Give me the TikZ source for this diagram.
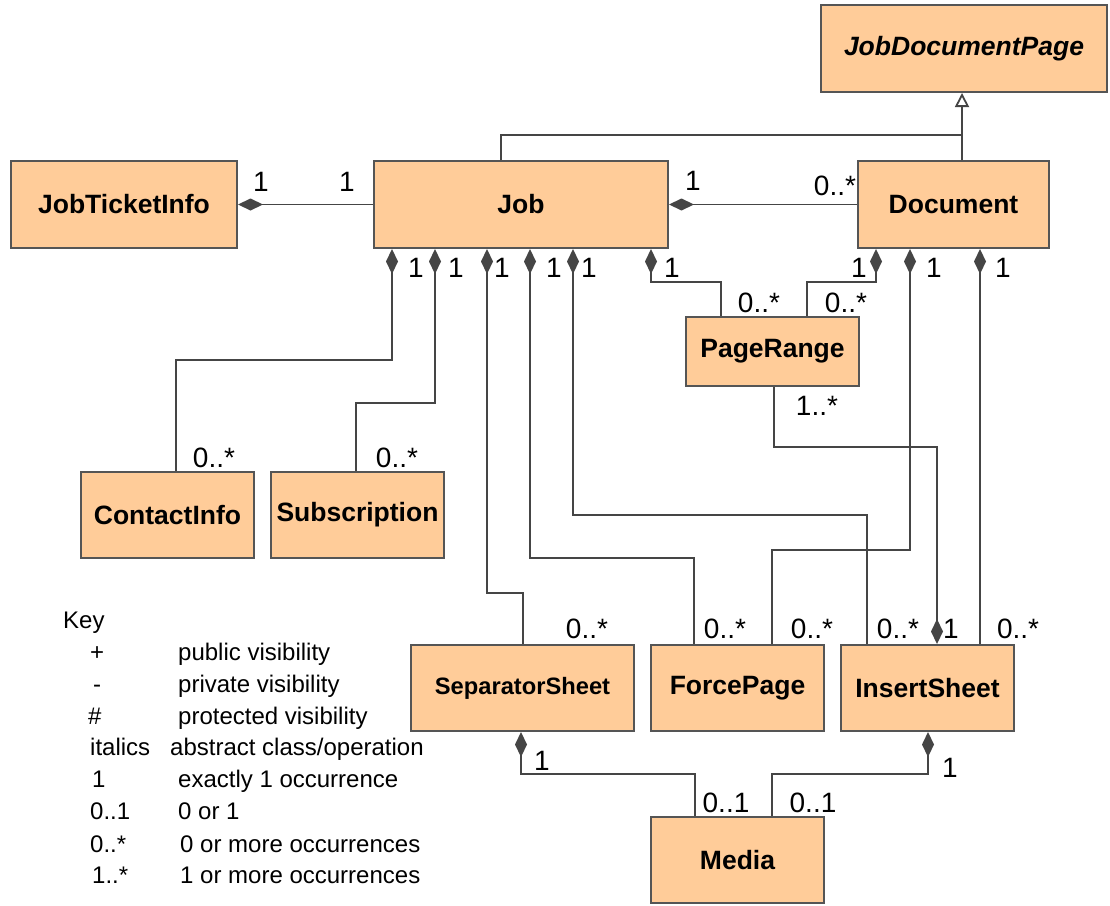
\documentclass[tikz,border=0pt]{standalone}
\usepackage{fontspec}
\setmainfont{Liberation Sans}
\usetikzlibrary{arrows.meta}
\definecolor{boxfill}{HTML}{FFCC99}
\definecolor{boxline}{HTML}{555555}
\definecolor{lc}{HTML}{454545}
\begin{document}
\begin{tikzpicture}[x=1pt,y=-1pt,
 cls/.style={draw=boxline, fill=boxfill, line width=2pt, inner sep=0pt, font=\fontsize{26.5}{30}\selectfont\bfseries},
 lnk/.style={draw=lc, line width=1.8pt},
 compo/.style={lnk, {Diamond[length=25pt,width=12pt]}-},
 compoend/.style={lnk, -{Diamond[length=25pt,width=12pt]}},
 inh/.style={lnk, -{Triangle[open,length=14pt,width=14pt,fill=white]}},
 lab/.style={font=\fontsize{28}{30}\selectfont, anchor=base, inner sep=0pt, text=black},
 keyt/.style={font=\fontsize{24}{28}\selectfont, anchor=base west, inner sep=0pt}]
\useasboundingbox (0,0) rectangle (1110,905);
% classes
\node[cls, minimum width=286pt, minimum height=87pt] (jdp) at (964,48.5) {\itshape JobDocumentPage};
\node[cls, minimum width=294pt, minimum height=87pt] (job) at (521,204.5) {Job};
\node[cls, minimum width=191pt, minimum height=87pt] (doc) at (953.5,204.5) {Document};
\node[cls, minimum width=226pt, minimum height=87pt] (jti) at (124,204.5) {JobTicketInfo};
\node[cls, minimum width=173pt, minimum height=69pt] (pr) at (772.5,351.5) {PageRange};
\node[cls, minimum width=173pt, minimum height=86pt] (ci) at (167.5,515) {ContactInfo};
\node[cls, minimum width=173pt, minimum height=86pt] (sub) at (357.5,515) {Subscription};
\node[cls, minimum width=223pt, minimum height=86pt, font=\fontsize{23.7}{28}\selectfont\bfseries] (sep) at (522.5,688) {SeparatorSheet};
\node[cls, minimum width=173pt, minimum height=86pt] (fp) at (737.5,688) {ForcePage};
\node[cls, minimum width=173pt, minimum height=86pt] (ins) at (927.5,688) {InsertSheet};
\node[cls, minimum width=173pt, minimum height=86pt] (med) at (737.5,860) {Media};
% connectors
\draw[compo] (jti.east) -- (job.west);
\draw[compo] (job.east) -- (doc.west);
\draw[lnk] (501,0 |- job.north) |- (962,135);
\draw[inh] (962,0 |- doc.north) -- (962,0 |- jdp.south);
\draw[compo] (392,0 |- job.south) |- (176,360) -- (176,0 |- ci.north);
\draw[compo] (435,0 |- job.south) |- (356,403) -- (356,0 |- sub.north);
\draw[compo] (487,0 |- job.south) |- (523,593) -- (523,0 |- sep.north);
\draw[compo] (530,0 |- job.south) |- (694,558) -- (694,0 |- fp.north);
\draw[compo] (573,0 |- job.south) |- (867,515) -- (867,0 |- ins.north);
\draw[compo] (651,0 |- job.south) |- (721,282) -- (721,0 |- pr.north);
\draw[compo] (876,0 |- doc.south) |- (807,282) -- (807,0 |- pr.north);
\draw[compo] (910,0 |- doc.south) |- (772,550) -- (772,0 |- fp.north);
\draw[compo] (980,0 |- doc.south) -- (980,0 |- ins.north);
\draw[compoend] (774,0 |- pr.south) |- (937,447) -- (937,0 |- ins.north);
\draw[compo] (521,0 |- sep.south) |- (695,774) -- (695,0 |- med.north);
\draw[compo] (928,0 |- ins.south) |- (772,774) -- (772,0 |- med.north);
% multiplicities
\node[lab] (m1) at (261,191) {1};
\node[lab] (m2) at (347,191) {1};
\node[lab] (m3) at (693,190) {1};
\node[lab] (m4) at (835,195) {0..*};
\node[lab] (m5) at (416,277) {1};
\node[lab] (m6) at (456,277) {1};
\node[lab] (m7) at (502,277) {1};
\node[lab] (m8) at (554,277) {1};
\node[lab] (m9) at (589,277) {1};
\node[lab] (m10) at (672,277) {1};
\node[lab] (m11) at (859,277) {1};
\node[lab] (m12) at (934,277) {1};
\node[lab] (m13) at (1003,277) {1};
\node[lab] (m14) at (759,312) {0..*};
\node[lab] (m15) at (846,312) {0..*};
\node[lab] (m16) at (817,415) {1..*};
\node[lab] (m17) at (214,467) {0..*};
\node[lab] (m18) at (397,467) {0..*};
\node[lab] (m19) at (587,638) {0..*};
\node[lab] (m20) at (725,638) {0..*};
\node[lab] (m21) at (812,638) {0..*};
\node[lab] (m22) at (898,638) {0..*};
\node[lab] (m23) at (951,638) {1};
\node[lab] (m24) at (1018,638) {0..*};
\node[lab] (m25) at (542,770) {1};
\node[lab] (m26) at (950,777) {1};
\node[lab] (m27) at (726,812) {0..1};
\node[lab] (m28) at (813,812) {0..1};
% key
\node[keyt] (k0) at (63,628) {Key};
\node[keyt] (k1a) at (90,660) {+};
\node[keyt] (k1b) at (178,660) {public visibility};
\node[keyt] (k2a) at (93,692) {-};
\node[keyt] (k2b) at (178,692) {private visibility};
\node[keyt] (k3a) at (88,724) {\#};
\node[keyt] (k3b) at (178,724) {protected visibility};
\node[keyt] (k4a) at (90,755) {italics};
\node[keyt] (k4b) at (170,755) {abstract class/operation};
\node[keyt] (k5a) at (92,787) {1};
\node[keyt] (k5b) at (178,787) {exactly 1 occurrence};
\node[keyt] (k6a) at (90,819) {0..1};
\node[keyt] (k6b) at (178,819) {0 or 1};
\node[keyt] (k7a) at (90,852) {0..*};
\node[keyt] (k7b) at (180,852) {0 or more occurrences};
\node[keyt] (k8a) at (92,883) {1..*};
\node[keyt] (k8b) at (180,883) {1 or more occurrences};
\end{tikzpicture}
\end{document}
